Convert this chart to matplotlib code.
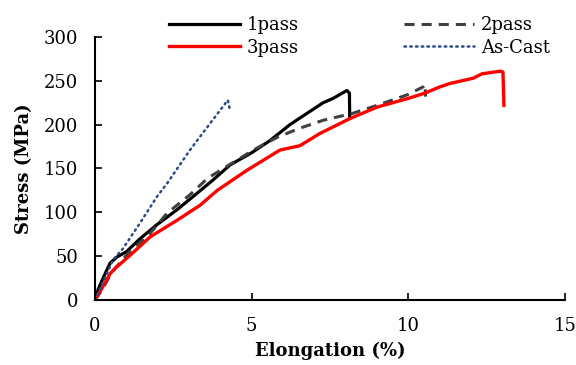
import matplotlib
matplotlib.use("Agg")
import matplotlib.pyplot as plt

plt.rcParams["font.family"] = ["DejaVu Serif"]

# elongation (%) / stress (MPa)
pass1_x = [0, 0.1, 0.27, 0.48, 0.7, 1.0, 1.44, 1.98, 2.62, 3.13, 3.77, 4.31, 5.0, 5.59, 6.22, 6.77, 7.28, 7.6, 8.04, 8.12, 8.13]
pass1_y = [0, 12, 26, 42, 49, 55, 70, 86, 103, 118, 137, 154, 168, 182, 200, 213, 225, 230, 239, 236, 207]

pass2_x = [0, 0.2, 0.48, 0.64, 1.1, 1.76, 2.3, 3.03, 3.6, 4.37, 5.1, 5.84, 6.54, 7.28, 8.23, 9.0, 9.96, 10.47, 10.53, 10.55]
pass2_y = [0, 10, 28, 36, 55, 76, 99, 120, 139, 156, 172, 186, 196, 205, 213, 222, 234, 243, 246, 232]

pass3_x = [0, 0.2, 0.48, 0.64, 1.12, 1.76, 2.62, 3.35, 3.9, 4.85, 5.9, 6.54, 7.18, 8.14, 9.0, 10.0, 10.53, 11.0, 11.33, 12.07, 12.35, 12.93, 13.02, 13.05]
pass3_y = [0, 12, 30, 36, 51, 72, 91, 108, 125, 148, 171, 176, 190, 207, 220, 230, 236, 243, 247, 253, 258, 261, 260, 222]

cast_x = [0, 0.2, 0.58, 0.9, 1.44, 1.98, 2.3, 3.03, 3.6, 4.24, 4.31]
cast_y = [0, 16, 46, 59, 88, 118, 133, 171, 198, 228, 216]

fig = plt.figure(figsize=(5.76, 3.65), dpi=100)
ax = fig.add_axes([95 / 576, 1 - 300 / 365, 470 / 576, 263 / 365])

l1, = ax.plot(pass1_x, pass1_y, color="black", lw=2.3)
l2, = ax.plot(pass2_x, pass2_y, color="#404040", lw=2.2, ls=(0, (3.3, 2.3)))
l3, = ax.plot(pass3_x, pass3_y, color="#ff0000", lw=2.4)
l4, = ax.plot(cast_x, cast_y, color="#2a4a8a", lw=1.8, ls=(0, (0.6, 1.7)),
              dash_capstyle="round")

ax.set_xlim(0, 15)
ax.set_ylim(0, 300)
ax.set_xticks([0, 5, 10, 15])
ax.set_yticks(range(0, 301, 50))
ax.tick_params(direction="in", length=5, width=1.2, labelsize=13)
ax.tick_params(axis="x", pad=12)
ax.tick_params(axis="y", pad=12)
for side in ["top", "right"]:
    ax.spines[side].set_visible(False)
for side in ["left", "bottom"]:
    ax.spines[side].set_linewidth(1.5)

ax.set_xlabel("Elongation (%)", fontsize=13, fontweight="bold", labelpad=5)
ax.set_ylabel("Stress (MPa)", fontsize=13, fontweight="bold", labelpad=8)

# column-wise fill: 1pass/3pass in the left column, 2pass/As-Cast in the right
fig.legend([l1, l3, l2, l4], ["1pass", "3pass", "2pass", "As-Cast"],
           loc="upper left", bbox_to_anchor=(153 / 576, 1.0), ncol=2, frameon=False,
           fontsize=13, handlelength=3.9, columnspacing=5.8, labelspacing=0.25,
           handletextpad=0.4)

fig.savefig("out.png", dpi=100)
